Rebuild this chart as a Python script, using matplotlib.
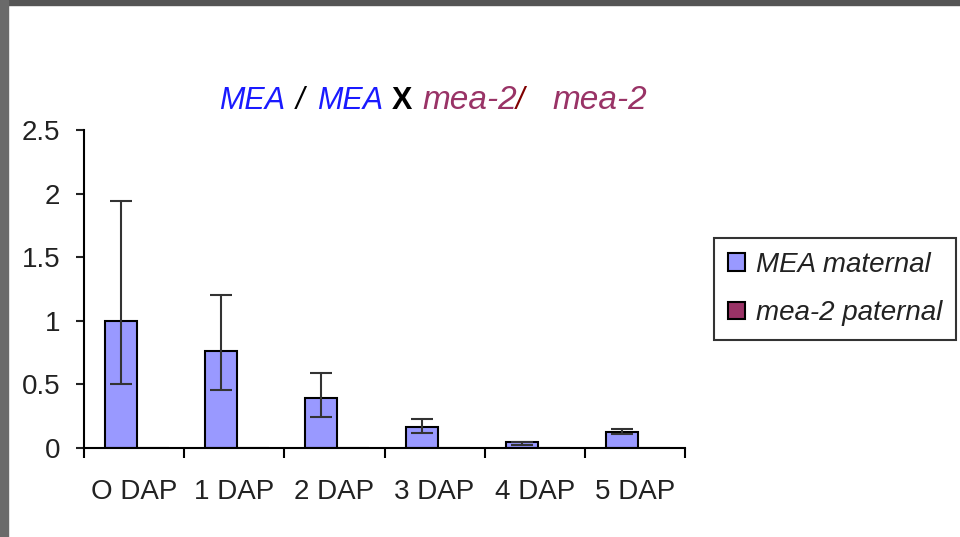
import numpy as np
import matplotlib.pyplot as plt
from matplotlib.patches import Rectangle

plt.rcParams['font.family'] = ['Liberation Sans', 'DejaVu Sans']

categories = ['O DAP', '1 DAP', '2 DAP', '3 DAP', '4 DAP', '5 DAP']
mea_maternal = [1.0, 0.76, 0.39, 0.165, 0.045, 0.123]
err_low = [0.50, 0.454, 0.24, 0.12, 0.02, 0.11]
err_high = [1.94, 1.20, 0.59, 0.226, 0.045, 0.15]
mea2_paternal = [0, 0, 0, 0, 0, 0]

fig = plt.figure(figsize=(9.6, 5.37), dpi=100)
# grey window border on top and left
fig.patches.append(Rectangle((0, 1 - 5/537), 1, 5/537, transform=fig.transFigure,
                             color='#555555', zorder=0))
fig.patches.append(Rectangle((0, 0), 8/960, 1, transform=fig.transFigure,
                             color='#6a6a6a', zorder=0))

ax = fig.add_axes([84/960, 1 - 448/537, 601/960, 318/537])
x = np.arange(len(categories))
w = 0.32
off = 0.13
mat = np.array(mea_maternal)
yerr = [np.clip(mat - np.array(err_low), 0, None), np.clip(np.array(err_high) - mat, 0, None)]
ax.bar(x - off, mat, w, color='#9999ff', edgecolor='black', linewidth=1.5,
       label='MEA maternal', zorder=2)
ax.bar(x - off + w, mea2_paternal, w, color='#993366', edgecolor='black', linewidth=1.5,
       label='mea-2 paternal', zorder=2)
ax.errorbar(x - off, mat, yerr=yerr, fmt='none', ecolor='#333333', elinewidth=1.5,
            capsize=8, capthick=1.5, zorder=3)

ax.set_xlim(-0.5, 5.5)
ax.set_ylim(0, 2.5)
ax.set_yticks([0, 0.5, 1, 1.5, 2, 2.5])
ax.set_yticklabels(['0', '0.5', '1', '1.5', '2', '2.5'])
ax.set_xticks(x)
ax.set_xticklabels(categories)
ax.set_xticks(np.arange(-0.5, 6, 1), minor=True)
ax.tick_params(axis='x', which='major', length=0, pad=22, labelsize=20, colors='#222222')
ax.tick_params(axis='x', which='minor', length=7, width=1.5, direction='out')
ax.tick_params(axis='y', length=6, width=1.5, pad=11, labelsize=20, colors='#222222')
for s in ['top', 'right']:
    ax.spines[s].set_visible(False)
for s in ['left', 'bottom']:
    ax.spines[s].set_linewidth(1.5)

# multi-coloured title, pieces placed at their left edges (pixels)
pieces = [('MEA', '#1a1aff', 'italic', 'normal', 22, 219),
          ('/', 'black', 'italic', 'normal', 22, 296),
          ('MEA', '#1a1aff', 'italic', 'normal', 22, 317),
          ('X', 'black', 'normal', 'bold', 22, 392),
          ('mea-2', '#993366', 'italic', 'normal', 24, 422),
          ('/', '#800000', 'italic', 'normal', 22, 516),
          ('mea-2', '#993366', 'italic', 'normal', 24, 552)]
for txt, col, st, wt, fs, px in pieces:
    fig.text(px/960, 1 - 109/537, txt, color=col, style=st, weight=wt,
             fontsize=fs, va='baseline', ha='left')

leg = fig.legend(loc='upper left', bbox_to_anchor=(714/960, 1 - 238/537),
                 frameon=True, fancybox=False, edgecolor='black',
                 prop={'style': 'italic', 'size': 20}, handlelength=0.6,
                 handleheight=0.6, handletextpad=0.4, labelspacing=0.8,
                 borderpad=0.5, borderaxespad=0)
leg.get_frame().set_linewidth(1.5)
for t in leg.get_texts():
    t.set_color('#222222')

fig.savefig('out.png', dpi=100)
